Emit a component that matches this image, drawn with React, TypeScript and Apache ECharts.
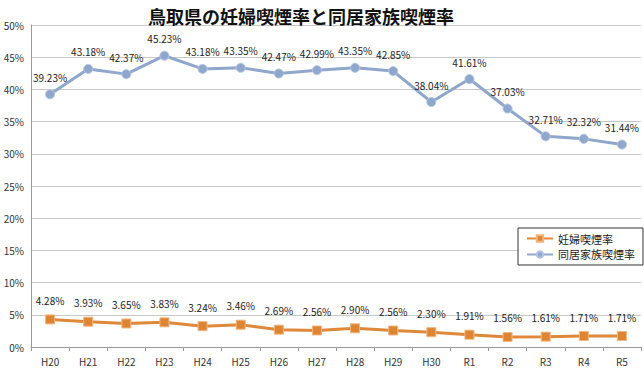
import React, { useEffect, useRef } from "react";
import * as echarts from "echarts";

const categories = ["H20", "H21", "H22", "H23", "H24", "H25", "H26", "H27", "H28", "H29", "H30", "R1", "R2", "R3", "R4", "R5"];
const pregnantRates = [4.28, 3.93, 3.65, 3.83, 3.24, 3.46, 2.69, 2.56, 2.90, 2.56, 2.30, 1.91, 1.56, 1.61, 1.71, 1.71];
const familyRates = [39.23, 43.18, 42.37, 45.23, 43.18, 43.35, 42.47, 42.99, 43.35, 42.85, 38.04, 41.61, 37.03, 32.71, 32.32, 31.44];
const seriesNames = ["妊婦喫煙率", "同居家族喫煙率"];
const titleText = "鳥取県の妊婦喫煙率と同居家族喫煙率";

const FONT = "'Noto Sans CJK JP', 'Noto Sans', sans-serif";

export default function App() {
  const ref = useRef<HTMLDivElement>(null);
  useEffect(() => {
    if (!ref.current) return;
    const chart = echarts.init(ref.current, undefined, { renderer: "svg" });
    const labelFmt = (p: any) => Number(p.value).toFixed(2) + "%";
    chart.setOption({
      animation: false,
      backgroundColor: "#ffffff",
      textStyle: { fontFamily: FONT },
      title: {
        text: titleText,
        left: 143,
        top: 2,
        textStyle: { fontSize: 18, fontWeight: "bold", color: "#111", fontFamily: FONT },
      },
      legend: {
        orient: "vertical",
        left: 518,
        top: 228,
        width: 116,
        padding: [5, 8, 5, 8],
        itemGap: 5,
        itemWidth: 26,
        itemHeight: 8,
        borderColor: "#333",
        borderWidth: 1,
        backgroundColor: "#fff",
        textStyle: { fontSize: 11, color: "#222", fontFamily: FONT },
        data: seriesNames,
      },
      grid: { left: 31, right: 3, top: 25, bottom: 28, containLabel: false },
      xAxis: {
        type: "category",
        data: categories,
        boundaryGap: true,
        axisLine: { lineStyle: { color: "#999" } },
        axisTick: { show: true, length: 4, lineStyle: { color: "#999" } },
        axisLabel: { fontSize: 10, color: "#333", margin: 9, fontFamily: FONT },
      },
      yAxis: {
        type: "value",
        min: 0,
        max: 50,
        interval: 5,
        axisLine: { show: true, lineStyle: { color: "#999" } },
        axisTick: { show: false },
        splitLine: { lineStyle: { color: "#c8c8c8" } },
        axisLabel: { fontSize: 10, color: "#333", margin: 7, formatter: "{value}%", fontFamily: FONT },
      },
      series: [
        {
          name: seriesNames[0],
          type: "line",
          data: pregnantRates,
          symbol: "rect",
          symbolSize: 9,
          lineStyle: { color: "#E0883A", width: 3 },
          itemStyle: { color: "#DE8534", borderColor: "#F2B57E", borderWidth: 1 },
          label: {
            show: true,
            position: "top",
            distance: 9,
            fontSize: 10,
            color: "#222",
            formatter: labelFmt,
            fontFamily: FONT,
          },
        },
        {
          name: seriesNames[1],
          type: "line",
          data: familyRates,
          symbol: "circle",
          symbolSize: 9,
          lineStyle: { color: "#8FA6CD", width: 3 },
          itemStyle: { color: "#8FA6CD", borderColor: "#B5C5E0", borderWidth: 1 },
          label: {
            show: true,
            position: "top",
            distance: 7,
            fontSize: 10,
            color: "#222",
            formatter: labelFmt,
            fontFamily: FONT,
          },
        },
      ],
    });
    return () => chart.dispose();
  }, []);
  return <div ref={ref} style={{ width: 644, height: 375, position: "absolute", left: 0, top: 0 }} />;
}
